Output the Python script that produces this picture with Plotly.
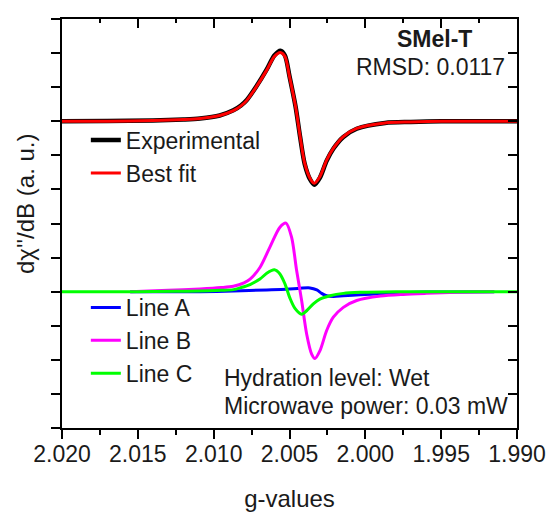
import plotly.graph_objects as go

# ---------------- data ----------------
# Top spectrum (experimental & best fit), relative to its baseline
g_top = [2.0200, 2.0170, 2.0140, 2.0120, 2.0109, 2.0096, 2.0087, 2.0082, 2.0078,
         2.0072, 2.0065, 2.0060, 2.0056, 2.0053, 2.0050, 2.0046, 2.0043, 2.0040,
         2.00365, 2.00336, 2.0030, 2.00255, 2.0021, 2.00145, 2.00057, 1.9987,
         1.9970, 1.9950, 1.9900]
fit_vals = [0.0, 0.0, 0.02, 0.05, 0.08, 0.17, 0.31, 0.45, 0.62,
            1.00, 1.50, 1.90, 2.02, 1.90, 1.31, 0.43, -0.45, -1.23,
            -1.67, -1.82, -1.63, -1.14, -0.79, -0.45, -0.21, -0.05,
            -0.02, 0.0, 0.0]
exp_vals = [0.0, 0.01, 0.02, 0.05, 0.08, 0.17, 0.32, 0.46, 0.63,
            1.01, 1.52, 1.93, 2.07, 1.93, 1.32, 0.43, -0.46, -1.25,
            -1.70, -1.86, -1.66, -1.16, -0.80, -0.46, -0.22, -0.05,
            -0.02, 0.0, 0.0]

# Line A (blue)
g_a = [2.0155, 2.0130, 2.0109, 2.0087, 2.0065, 2.0052, 2.0043, 2.00365, 2.0032,
       2.00288, 2.00255, 2.0021, 2.00145, 2.00035, 1.9990, 1.9975, 1.9960, 1.9915]
a_vals = [0.0, 0.0, 0.0, 0.02, 0.05, 0.07, 0.10, 0.11, 0.05,
          -0.05, -0.12, -0.14, -0.12, -0.09, -0.06, -0.03, -0.01, 0.0]

# Line B (magenta)
g_b = [2.0155, 2.0130, 2.0109, 2.0095, 2.0087, 2.0080, 2.0076, 2.00695, 2.0063,
       2.00563, 2.00523, 2.00486, 2.00453, 2.0042, 2.00387, 2.00354, 2.00332,
       2.00299, 2.00255, 2.00211, 2.00145, 2.00057, 1.9990, 1.9975, 1.9960,
       1.9940, 1.9915]
b_vals = [0.0, 0.04, 0.08, 0.12, 0.16, 0.26, 0.37, 0.71, 1.30,
          1.89, 2.01, 1.59, 0.62, -0.26, -1.24, -1.83, -1.96,
          -1.73, -1.14, -0.75, -0.46, -0.26, -0.13, -0.08, -0.05,
          -0.02, 0.0]

# Line C (green)
g_c = [2.0200, 2.0150, 2.0125, 2.0109, 2.0095, 2.0087, 2.0082, 2.0076, 2.00695,
       2.0065, 2.0060, 2.00563, 2.0053, 2.00497, 2.00464, 2.0042, 2.00387,
       2.00343, 2.0030, 2.00233, 2.00145, 2.00035, 1.9980, 1.9900]
c_vals = [0.0, 0.0, 0.01, 0.02, 0.04, 0.06, 0.12, 0.21, 0.37,
          0.54, 0.64, 0.52, 0.23, -0.19, -0.49, -0.66, -0.56,
          -0.36, -0.22, -0.12, -0.05, -0.02, 0.0, 0.0]

x_tick_vals = [2.020, 2.015, 2.010, 2.005, 2.000, 1.995, 1.990]
x_tick_text = ["2.020", "2.015", "2.010", "2.005", "2.000", "1.995", "1.990"]

TOP_OFFSET = 9
COMP_OFFSET = 4

FONT = "Liberation Sans, Arial, sans-serif"
TXT = "#1a1a1a"

fig = go.Figure()

def add(gs, vals, off, name, color, width, legend):
    fig.add_trace(go.Scatter(
        x=gs, y=[v + off for v in vals], mode="lines", name=name,
        line=dict(color=color, width=width, shape="spline", smoothing=0.8),
        legend=legend))

add(g_top, exp_vals, TOP_OFFSET, "Experimental", "#000000", 4.5, "legend")
add(g_top, fit_vals, TOP_OFFSET, "Best fit", "#ff0000", 3, "legend")
add(g_a, a_vals, COMP_OFFSET, "Line A", "#0000ff", 3, "legend2")
add(g_b, b_vals, COMP_OFFSET, "Line B", "#ff00ff", 3, "legend2")
add(g_c, c_vals, COMP_OFFSET, "Line C", "#00ff00", 3, "legend2")

# invisible companion trace so the top/right frame axes get drawn
fig.add_trace(go.Scatter(x=g_c, y=[v + COMP_OFFSET for v in c_vals],
                         xaxis="x2", yaxis="y2", mode="lines",
                         line=dict(width=0, color="rgba(0,0,0,0)"),
                         showlegend=False, hoverinfo="skip"))

axis_common = dict(showline=True, linewidth=2, linecolor="black", showgrid=False,
                   zeroline=False, tickcolor="black", tickwidth=1.5, automargin=False)

fig.update_layout(
    width=547, height=512,
    margin=dict(l=62, r=30, t=19, b=84),
    paper_bgcolor="white", plot_bgcolor="white",
    font=dict(family=FONT, size=23, color=TXT),
    xaxis=dict(range=[2.020, 1.990], tickmode="array", tickvals=x_tick_vals,
               ticktext=x_tick_text, ticks="outside", ticklen=9,
               ticklabelstandoff=-5,
               tickfont=dict(size=23, color=TXT),
               minor=dict(dtick=0.0025, tick0=2.0, ticks="outside", ticklen=5,
                          tickwidth=1.5, tickcolor="black", showgrid=False),
               title=dict(text="g-values", font=dict(size=24, color=TXT),
                          standoff=30),
               **axis_common),
    xaxis2=dict(range=[2.020, 1.990], overlaying="x", side="top", anchor="y",
                tickmode="array", tickvals=x_tick_vals, showticklabels=False,
                ticks="inside", ticklen=9,
                minor=dict(dtick=0.0025, tick0=2.0, ticks="inside", ticklen=4,
                           tickwidth=1.5, tickcolor="black", showgrid=False),
                **axis_common),
    yaxis=dict(range=[0, 12], dtick=1, tick0=0, ticks="outside", ticklen=9,
               showticklabels=False, **axis_common),
    yaxis2=dict(range=[0, 12], dtick=1, tick0=0, overlaying="y", side="right",
                anchor="x", ticks="inside", ticklen=9, showticklabels=False,
                **axis_common),
    legend=dict(x=0.0524, y=0.7563, xanchor="left", yanchor="top",
                bgcolor="rgba(0,0,0,0)", font=dict(size=23, color=TXT),
                tracegroupgap=0, itemwidth=30),
    legend2=dict(x=0.0524, y=0.3472, xanchor="left", yanchor="top",
                 bgcolor="rgba(0,0,0,0)", font=dict(size=23, color=TXT),
                 tracegroupgap=0, itemwidth=30),
    showlegend=True,
)

fig.add_annotation(text="<b>SMel-T</b>", xref="paper", yref="paper",
                   x=0.8176, y=0.951, xanchor="center", yanchor="middle",
                   showarrow=False, font=dict(size=23, color=TXT))
fig.add_annotation(text="RMSD: 0.0117", xref="paper", yref="paper",
                   x=0.978, y=0.8826, xanchor="right", yanchor="middle",
                   showarrow=False, font=dict(size=23, color=TXT))
fig.add_annotation(text="Hydration level: Wet", xref="paper", yref="paper",
                   x=0.3516, y=0.1222, xanchor="left", yanchor="middle",
                   showarrow=False, font=dict(size=23, color=TXT))
fig.add_annotation(text="Microwave power: 0.03 mW", xref="paper", yref="paper",
                   x=0.3516, y=0.0538, xanchor="left", yanchor="middle",
                   showarrow=False, font=dict(size=23, color=TXT))
fig.add_annotation(text="dχ''/dB (a. u.)", xref="paper", yref="paper",
                   x=-0.0791, y=0.5477, xanchor="center", yanchor="middle",
                   textangle=-90, showarrow=False,
                   font=dict(size=24, color=TXT))

fig.write_html(
    "out.html",
    config={"displayModeBar": False},
    post_script="document.body.style.margin='0';"
                "document.documentElement.style.overflow='hidden';",
)
